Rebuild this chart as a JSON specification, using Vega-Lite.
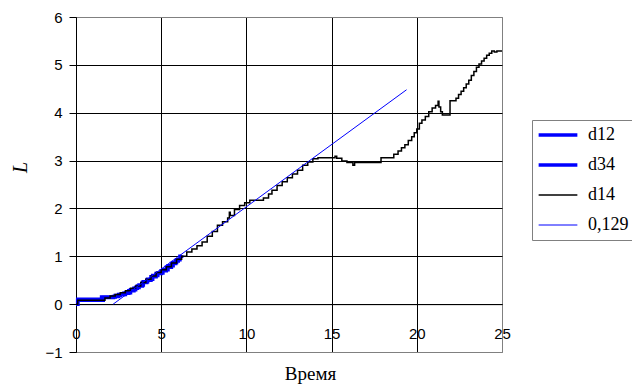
{
  "$schema": "https://vega.github.io/schema/vega-lite/v6.json",
  "width": 426,
  "height": 335,
  "autosize": "none",
  "padding": {"left": 76, "top": 17, "right": 130, "bottom": 32},
  "background": "white",
  "config": {
    "view": {"stroke": "#808080", "strokeWidth": 1},
    "axis": {
      "labelFont": "Liberation Sans",
      "labelFontSize": 15,
      "labelColor": "#000000",
      "titleColor": "#000000",
      "titleFontWeight": "normal",
      "domainColor": "#000000",
      "tickColor": "#000000",
      "gridOpacity": 1,
      "gridWidth": 1
    }
  },
  "data": {
    "values": [
      {"s": "d12", "t": 0, "L": 0}, {"s": "d12", "t": 0.1, "L": 0.1}, {"s": "d12", "t": 1.5, "L": 0.15},
      {"s": "d12", "t": 2.3, "L": 0.18}, {"s": "d12", "t": 2.6, "L": 0.2}, {"s": "d12", "t": 2.9, "L": 0.24},
      {"s": "d12", "t": 3.2, "L": 0.3}, {"s": "d12", "t": 3.5, "L": 0.35}, {"s": "d12", "t": 3.7, "L": 0.4},
      {"s": "d12", "t": 3.95, "L": 0.47}, {"s": "d12", "t": 4.2, "L": 0.52}, {"s": "d12", "t": 4.5, "L": 0.6},
      {"s": "d12", "t": 4.8, "L": 0.65}, {"s": "d12", "t": 5.1, "L": 0.72}, {"s": "d12", "t": 5.4, "L": 0.8},
      {"s": "d12", "t": 5.7, "L": 0.87}, {"s": "d12", "t": 5.9, "L": 0.93}, {"s": "d12", "t": 6.1, "L": 1.0},
      {"s": "d12", "t": 6.2, "L": 1.02},
      {"s": "d34", "t": 0, "L": 0}, {"s": "d34", "t": 0.1, "L": 0.08}, {"s": "d34", "t": 1.6, "L": 0.14},
      {"s": "d34", "t": 2.2, "L": 0.16}, {"s": "d34", "t": 2.5, "L": 0.2}, {"s": "d34", "t": 2.8, "L": 0.23},
      {"s": "d34", "t": 3.1, "L": 0.28}, {"s": "d34", "t": 3.4, "L": 0.33}, {"s": "d34", "t": 3.6, "L": 0.38},
      {"s": "d34", "t": 3.9, "L": 0.45}, {"s": "d34", "t": 4.15, "L": 0.5}, {"s": "d34", "t": 4.4, "L": 0.57},
      {"s": "d34", "t": 4.7, "L": 0.64}, {"s": "d34", "t": 5.0, "L": 0.7}, {"s": "d34", "t": 5.3, "L": 0.77},
      {"s": "d34", "t": 5.6, "L": 0.85}, {"s": "d34", "t": 5.85, "L": 0.9}, {"s": "d34", "t": 6.0, "L": 0.96},
      {"s": "d14", "t": 0, "L": 0}, {"s": "d14", "t": 0.1, "L": 0.08}, {"s": "d14", "t": 1.7, "L": 0.13},
      {"s": "d14", "t": 2.0, "L": 0.17}, {"s": "d14", "t": 2.3, "L": 0.2}, {"s": "d14", "t": 2.6, "L": 0.24},
      {"s": "d14", "t": 2.9, "L": 0.28}, {"s": "d14", "t": 3.2, "L": 0.33}, {"s": "d14", "t": 3.5, "L": 0.38},
      {"s": "d14", "t": 3.8, "L": 0.45}, {"s": "d14", "t": 4.1, "L": 0.52}, {"s": "d14", "t": 4.4, "L": 0.59},
      {"s": "d14", "t": 4.7, "L": 0.66}, {"s": "d14", "t": 5.0, "L": 0.72}, {"s": "d14", "t": 5.3, "L": 0.78},
      {"s": "d14", "t": 5.6, "L": 0.86}, {"s": "d14", "t": 5.9, "L": 0.94}, {"s": "d14", "t": 6.2, "L": 1.0},
      {"s": "d14", "t": 6.5, "L": 1.09}, {"s": "d14", "t": 6.8, "L": 1.15}, {"s": "d14", "t": 7.1, "L": 1.22},
      {"s": "d14", "t": 7.4, "L": 1.3}, {"s": "d14", "t": 7.7, "L": 1.42}, {"s": "d14", "t": 8.0, "L": 1.52},
      {"s": "d14", "t": 8.3, "L": 1.65}, {"s": "d14", "t": 8.6, "L": 1.72}, {"s": "d14", "t": 8.9, "L": 1.8},
      {"s": "d14", "t": 9.0, "L": 1.92}, {"s": "d14", "t": 9.05, "L": 1.85}, {"s": "d14", "t": 9.3, "L": 1.98},
      {"s": "d14", "t": 9.6, "L": 2.06}, {"s": "d14", "t": 9.9, "L": 2.12}, {"s": "d14", "t": 10.2, "L": 2.17},
      {"s": "d14", "t": 10.6, "L": 2.17}, {"s": "d14", "t": 11.0, "L": 2.22}, {"s": "d14", "t": 11.3, "L": 2.3},
      {"s": "d14", "t": 11.5, "L": 2.38}, {"s": "d14", "t": 11.8, "L": 2.48}, {"s": "d14", "t": 12.1, "L": 2.56},
      {"s": "d14", "t": 12.4, "L": 2.64}, {"s": "d14", "t": 12.7, "L": 2.72}, {"s": "d14", "t": 13.0, "L": 2.8},
      {"s": "d14", "t": 13.3, "L": 2.9}, {"s": "d14", "t": 13.6, "L": 2.97}, {"s": "d14", "t": 13.9, "L": 3.04},
      {"s": "d14", "t": 14.2, "L": 3.06}, {"s": "d14", "t": 15.2, "L": 3.09}, {"s": "d14", "t": 15.3, "L": 3.05},
      {"s": "d14", "t": 15.6, "L": 2.99}, {"s": "d14", "t": 15.9, "L": 2.96}, {"s": "d14", "t": 16.25, "L": 2.9},
      {"s": "d14", "t": 16.35, "L": 2.96}, {"s": "d14", "t": 17.9, "L": 3.06}, {"s": "d14", "t": 18.65, "L": 3.13},
      {"s": "d14", "t": 18.9, "L": 3.2}, {"s": "d14", "t": 19.1, "L": 3.27}, {"s": "d14", "t": 19.3, "L": 3.33},
      {"s": "d14", "t": 19.5, "L": 3.42}, {"s": "d14", "t": 19.7, "L": 3.5}, {"s": "d14", "t": 19.85, "L": 3.58},
      {"s": "d14", "t": 20.0, "L": 3.66}, {"s": "d14", "t": 20.15, "L": 3.78}, {"s": "d14", "t": 20.3, "L": 3.85},
      {"s": "d14", "t": 20.5, "L": 3.92}, {"s": "d14", "t": 20.7, "L": 4.02}, {"s": "d14", "t": 20.9, "L": 4.1},
      {"s": "d14", "t": 21.1, "L": 4.15}, {"s": "d14", "t": 21.25, "L": 4.24}, {"s": "d14", "t": 21.3, "L": 4.12},
      {"s": "d14", "t": 21.4, "L": 4.02}, {"s": "d14", "t": 21.5, "L": 3.95}, {"s": "d14", "t": 21.95, "L": 4.25},
      {"s": "d14", "t": 22.3, "L": 4.3}, {"s": "d14", "t": 22.45, "L": 4.38}, {"s": "d14", "t": 22.6, "L": 4.45},
      {"s": "d14", "t": 22.75, "L": 4.52}, {"s": "d14", "t": 22.9, "L": 4.6}, {"s": "d14", "t": 23.05, "L": 4.68},
      {"s": "d14", "t": 23.2, "L": 4.78}, {"s": "d14", "t": 23.35, "L": 4.86}, {"s": "d14", "t": 23.5, "L": 4.95},
      {"s": "d14", "t": 23.65, "L": 5.02}, {"s": "d14", "t": 23.8, "L": 5.08}, {"s": "d14", "t": 23.95, "L": 5.14},
      {"s": "d14", "t": 24.1, "L": 5.2}, {"s": "d14", "t": 24.25, "L": 5.24}, {"s": "d14", "t": 24.4, "L": 5.29},
      {"s": "d14", "t": 24.55, "L": 5.27}, {"s": "d14", "t": 24.7, "L": 5.29}, {"s": "d14", "t": 25.0, "L": 5.29},
      {"s": "0,129", "t": 2.18, "L": 0}, {"s": "0,129", "t": 19.4, "L": 4.48}
    ]
  },
  "encoding": {
    "x": {
      "field": "t", "type": "quantitative",
      "scale": {"domain": [0, 25], "nice": false, "zero": false},
      "axis": {
        "values": [0, 5, 10, 15, 20, 25],
        "offset": -47.86,
        "grid": true,
        "gridColor": {"condition": {"test": "datum.value == 25", "value": "#808080"}, "value": "#000000"},
        "ticks": false,
        "labelPadding": 22,
        "labelFlush": false,
        "title": "Время",
        "titleFont": "Liberation Serif, Times New Roman, serif",
        "titleFontSize": 19,
        "titleX": 234,
        "titleY": 75,
        "titleAlign": "center",
        "titleBaseline": "alphabetic",
        "titleAnchor": null
      }
    },
    "y": {
      "field": "L", "type": "quantitative",
      "scale": {"domain": [-1, 6], "nice": false, "zero": false},
      "axis": {
        "values": [-1, 0, 1, 2, 3, 4, 5, 6],
        "grid": true,
        "gridColor": {"condition": {"test": "datum.value == -1 || datum.value == 6", "value": "#808080"}, "value": "#000000"},
        "tickSize": 7,
        "labelPadding": 7,
        "labelFlush": false,
        "title": "L",
        "titleFont": "Liberation Serif, Times New Roman, serif",
        "titleFontStyle": "italic",
        "titleFontSize": 20,
        "titleX": -56,
        "titleY": 150,
        "titleAngle": -90,
        "titleAlign": "center",
        "titleBaseline": "middle",
        "titleAnchor": null
      }
    },
    "color": {
      "field": "s", "type": "nominal",
      "scale": {"domain": ["d12", "d34", "d14", "0,129"], "range": ["#0000FF", "#0000FF", "#000000", "#0000FF"]},
      "legend": {
        "title": null,
        "orient": "none",
        "legendX": 456,
        "legendY": 103,
        "symbolType": "stroke",
        "symbolSize": 1500,
        "symbolOffset": 11,
        "rowPadding": 12,
        "padding": 6,
        "labelOffset": 21,
        "labelFont": "Liberation Serif, Times New Roman, serif",
        "labelFontSize": 18,
        "labelColor": "#000000",
        "strokeColor": "#808080",
        "fillColor": "#ffffff",
        "encode": {
          "symbols": {
            "update": {
              "strokeWidth": {"signal": "datum.value == 'd14' ? 1.5 : (datum.value == '0,129' ? 1 : 3.5)"}
            }
          }
        }
      }
    }
  },
  "layer": [
    {
      "transform": [{"filter": "datum.s == 'd12' || datum.s == 'd34'"}],
      "mark": {"type": "line", "interpolate": "step-after", "strokeWidth": 3.5}
    },
    {
      "transform": [{"filter": "datum.s == 'd14'"}],
      "mark": {"type": "line", "interpolate": "step-after", "strokeWidth": 1.5}
    },
    {
      "transform": [{"filter": "datum.s == '0,129'"}],
      "mark": {"type": "line", "interpolate": "linear", "strokeWidth": 1}
    }
  ]
}
